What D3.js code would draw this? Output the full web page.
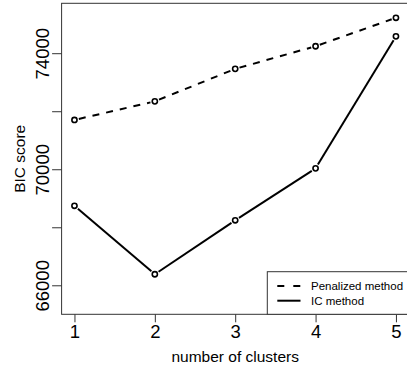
<!DOCTYPE html>
<html>
<head>
<meta charset="utf-8">
<script src="https://cdn.jsdelivr.net/npm/d3@7"></script>
<style>
  html, body { margin: 0; padding: 0; background: #fff; }
  svg { display: block; font-family: "Liberation Sans", Arial, Helvetica, sans-serif; }
</style>
</head>
<body>
<svg id="chart" width="407" height="372"></svg>
<script>
// BIC score by number of clusters for two model-selection approaches
const clusters = [1, 2, 3, 4, 5];
const penalizedBIC = [71700, 72340, 73460, 74240, 75220];
const icBIC = [68740, 66380, 68240, 70030, 74580];
const yTicks = [66000, 68000, 70000, 72000, 74000];
const yTickLabels = ["66000", "", "70000", "", "74000"];
const seriesNames = ["Penalized method", "IC method"];

const svg = d3.select("#chart");
const plotLeft = 61.6, plotRight = 408.8, plotTop = 3.3, plotBottom = 314.3;

const x = d3.scaleLinear().domain([0.84, 5.16]).range([plotLeft, plotRight]);
const y = d3.scaleLinear().domain([65000, 75720]).range([plotBottom, plotTop]);

// plot frame
svg.append("rect")
  .attr("x", plotLeft).attr("y", plotTop)
  .attr("width", plotRight - plotLeft).attr("height", plotBottom - plotTop)
  .attr("fill", "none").attr("stroke", "#333").attr("stroke-width", 1);

// x axis
const xAxis = svg.append("g").attr("transform", `translate(0,${plotBottom})`)
  .call(d3.axisBottom(x).tickValues(clusters).tickFormat(d3.format("d")).tickSize(8).tickPadding(3));
xAxis.select(".domain").remove();
xAxis.selectAll("line").attr("stroke", "#333");
xAxis.selectAll("text").attr("font-size", 18.5).attr("fill", "#000")
  .attr("font-family", "Liberation Sans, Arial, sans-serif");

// y axis with rotated tick labels
const yAxis = svg.append("g").attr("transform", `translate(${plotLeft},0)`)
  .call(d3.axisLeft(y).tickValues(yTicks).tickFormat((d, i) => yTickLabels[i]).tickSize(9.5));
yAxis.select(".domain").remove();
yAxis.selectAll("line").attr("stroke", "#333");
yAxis.selectAll("text")
  .attr("font-size", 18.5).attr("fill", "#000")
  .attr("font-family", "Liberation Sans, Arial, sans-serif")
  .attr("text-anchor", "middle")
  .attr("x", 0).attr("dy", 0)
  .attr("transform", "translate(-13,0) rotate(-90)");

// axis titles
svg.append("text")
  .attr("x", (x(1) + x(5)) / 2).attr("y", 362)
  .attr("text-anchor", "middle").attr("font-size", 15.5)
  .text("number of clusters");
svg.append("text")
  .attr("transform", `translate(25,${(plotTop + plotBottom) / 2}) rotate(-90)`)
  .attr("text-anchor", "middle").attr("font-size", 15.5)
  .text("BIC score");

// lines drawn with gaps around the point markers
function drawSeries(values, dash) {
  const pts = clusters.map((c, i) => [x(c), y(values[i])]);
  const gap = 4.5;
  const g = svg.append("g");
  for (let i = 0; i < pts.length - 1; i++) {
    const [x0, y0] = pts[i], [x1, y1] = pts[i + 1];
    const len = Math.hypot(x1 - x0, y1 - y0);
    const ux = (x1 - x0) / len, uy = (y1 - y0) / len;
    g.append("line")
      .attr("x1", x0 + ux * gap).attr("y1", y0 + uy * gap)
      .attr("x2", x1 - ux * gap).attr("y2", y1 - uy * gap)
      .attr("stroke", "#000").attr("stroke-width", 2)
      .attr("stroke-dasharray", dash);
  }
  g.selectAll("circle").data(pts).join("circle")
    .attr("cx", d => d[0]).attr("cy", d => d[1]).attr("r", 2.6)
    .attr("fill", "none").attr("stroke", "#000").attr("stroke-width", 1.6);
}
drawSeries(penalizedBIC, "7,7");
drawSeries(icBIC, null);

// legend
const lg = svg.append("g");
lg.append("rect")
  .attr("x", 267.3).attr("y", 271.7).attr("width", 150).attr("height", plotBottom - 271.7)
  .attr("fill", "#fff").attr("stroke", "#333").attr("stroke-width", 1);
const dashes = ["7,9", null];
seriesNames.forEach((name, i) => {
  const ly = 286 + i * 14.7;
  lg.append("line").attr("x1", 277.3).attr("x2", 300.5).attr("y1", ly).attr("y2", ly)
    .attr("stroke", "#000").attr("stroke-width", 2).attr("stroke-dasharray", dashes[i]);
  lg.append("text").attr("x", 311).attr("y", ly + 4).attr("font-size", 11.5).text(name);
});
</script>
</body>
</html>
